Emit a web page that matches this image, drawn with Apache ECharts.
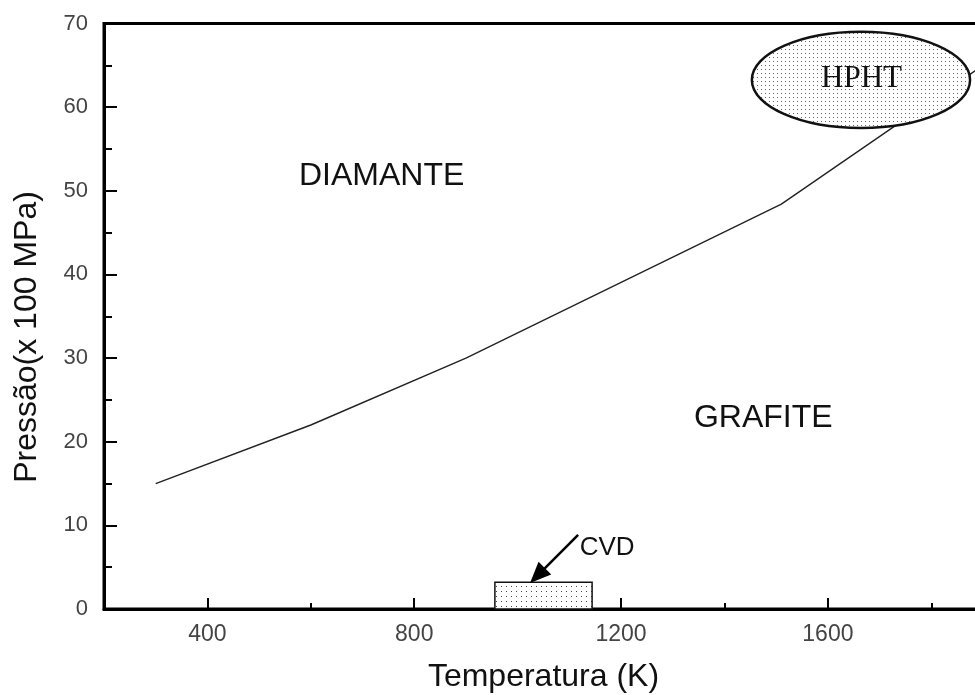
<!DOCTYPE html>
<html>
<head>
<meta charset="utf-8">
<script src="https://cdn.jsdelivr.net/npm/echarts@6/dist/echarts.min.js"></script>
<style>
  html, body { margin: 0; padding: 0; background: #fff; }
  #chart { width: 975px; height: 695px; }
</style>
</head>
<body>
<div id="chart"></div>
<script>
// Graphite/diamond equilibrium line (temperature K, pressure x100 MPa)
const boundaryT = [300, 600, 900, 1510, 1900];
const boundaryP = [15, 22, 30, 48.4, 65];

// Synthesis regions
const hphtT = [1453, 1875];      // ellipse extent in temperature
const hphtP = [57.5, 69.0];      // ellipse extent in pressure
const cvdT = [956, 1144];        // CVD window in temperature
const cvdP = [0, 3.2];           // CVD window in pressure
const cvdArrowFrom = [1117, 8.85];
const cvdArrowTo = [1024, 3.1];

// Region labels
const labelText = ['DIAMANTE', 'GRAFITE', 'CVD', 'HPHT'];
const labelT = [737, 1475, 1173, 1665];
const labelP = [51.8, 22.8, 7.3, 63.4];

// Axis ticks
const xMajorTicks = [400, 800, 1200, 1600];
const xMinorTicks = [600, 1000, 1400, 1800];
const xTickLabels = [400, 800, 1200, 1600];

const SANS = "'Liberation Sans', Arial, sans-serif";
const SERIF = "'Liberation Serif', 'Times New Roman', serif";

function dotPattern(step, dotColor) {
  const c = document.createElement('canvas');
  c.width = step; c.height = step;
  const g = c.getContext('2d');
  g.fillStyle = '#fff';
  g.fillRect(0, 0, step, step);
  g.fillStyle = dotColor;
  g.fillRect(1, 1, 1, 1);
  return { image: c, repeat: 'repeat' };
}

const chart = echarts.init(document.getElementById('chart'), null, { renderer: 'canvas' });

const boundaryData = boundaryT.map((t, i) => [t, boundaryP[i]]);
const labelData = labelText.map((s, i) => [labelT[i], labelP[i], s]);
const plain = v => String(v);

chart.setOption({
  animation: false,
  backgroundColor: '#fff',
  grid: {
    left: 104, top: 23.5, width: 879, height: 585.5,
    outerBoundsMode: 'none', containLabel: false,
    show: true, borderColor: '#000', borderWidth: 3, backgroundColor: 'transparent'
  },
  graphic: [{
    type: 'text',
    x: 27, y: 337,
    rotation: Math.PI / 2,
    style: {
      text: 'Pressão(x 100 MPa)',
      fontFamily: SANS, fontSize: 32, fill: '#111',
      align: 'center', verticalAlign: 'middle'
    }
  }],
  xAxis: [{
    type: 'value', min: 200, max: 1900, interval: 200,
    name: 'Temperatura (K)', nameLocation: 'middle', nameGap: 52,
    nameTextStyle: { fontFamily: SANS, fontSize: 32, color: '#111' },
    axisLine: { show: true, lineStyle: { color: '#000', width: 3 } },
    axisTick: { show: true, inside: true, length: 11, customValues: xMajorTicks, lineStyle: { color: '#000', width: 2 } },
    axisLabel: { customValues: xTickLabels, formatter: plain, margin: 14, fontFamily: SANS, fontSize: 23, color: '#444' },
    splitLine: { show: false }
  }, {
    type: 'value', min: 200, max: 1900, interval: 200, position: 'bottom',
    axisLine: { show: false },
    axisTick: { show: true, inside: true, length: 6, customValues: xMinorTicks, lineStyle: { color: '#000', width: 2 } },
    axisLabel: { show: false },
    splitLine: { show: false }
  }],
  yAxis: {
    type: 'value', min: 0, max: 70, interval: 10,
    axisLine: { show: true, lineStyle: { color: '#000', width: 3 } },
    axisTick: { show: true, inside: true, length: 13, lineStyle: { color: '#000', width: 2 } },
    minorTick: { show: true, splitNumber: 2, length: 8, lineStyle: { color: '#000', width: 2 } },
    axisLabel: { formatter: plain, margin: 16, fontFamily: SANS, fontSize: 22, color: '#444' },
    splitLine: { show: false },
    minorSplitLine: { show: false }
  },
  series: [{
    type: 'line',
    data: boundaryData,
    symbol: 'none',
    lineStyle: { color: '#222', width: 1.4 },
    z: 2
  }, {
    type: 'custom',
    data: [[hphtT[0], hphtP[0], hphtT[1], hphtP[1]]],
    renderItem: function (params, api) {
      const a = api.coord([api.value(0), api.value(1)]);
      const b = api.coord([api.value(2), api.value(3)]);
      return {
        type: 'ellipse',
        shape: { cx: (a[0] + b[0]) / 2, cy: (a[1] + b[1]) / 2, rx: Math.abs(b[0] - a[0]) / 2, ry: Math.abs(b[1] - a[1]) / 2 },
        style: { fill: dotPattern(4, '#666'), stroke: '#111', lineWidth: 2.5 }
      };
    },
    clip: false,
    z: 3
  }, {
    type: 'custom',
    data: [[cvdT[0], cvdP[0], cvdT[1], cvdP[1]]],
    renderItem: function (params, api) {
      const a = api.coord([api.value(0), api.value(1)]);
      const b = api.coord([api.value(2), api.value(3)]);
      return {
        type: 'rect',
        shape: { x: Math.min(a[0], b[0]), y: Math.min(a[1], b[1]), width: Math.abs(b[0] - a[0]), height: Math.abs(b[1] - a[1]) },
        style: { fill: dotPattern(5, '#444'), stroke: '#111', lineWidth: 1.5 }
      };
    },
    z: 3
  }, {
    type: 'custom',
    data: [[cvdArrowFrom[0], cvdArrowFrom[1], cvdArrowTo[0], cvdArrowTo[1]]],
    renderItem: function (params, api) {
      const s = api.coord([api.value(0), api.value(1)]);
      const e = api.coord([api.value(2), api.value(3)]);
      const dx = e[0] - s[0], dy = e[1] - s[1];
      const len = Math.sqrt(dx * dx + dy * dy);
      const ux = dx / len, uy = dy / len;
      const head = 21, half = 9;
      const bx = e[0] - ux * head, by = e[1] - uy * head;
      return {
        type: 'group',
        children: [{
          type: 'line',
          shape: { x1: s[0], y1: s[1], x2: bx + ux * 2, y2: by + uy * 2 },
          style: { stroke: '#000', lineWidth: 2.5 }
        }, {
          type: 'polygon',
          shape: { points: [[e[0], e[1]], [bx - uy * half, by + ux * half], [bx + uy * half, by - ux * half]] },
          style: { fill: '#000' }
        }]
      };
    },
    z: 4
  }, {
    type: 'custom',
    data: labelData,
    renderItem: function (params, api) {
      const p = api.coord([api.value(0), api.value(1)]);
      const txt = labelText[params.dataIndex];
      const serif = txt === 'HPHT';
      return {
        type: 'text',
        x: p[0], y: p[1],
        style: {
          text: txt,
          fontFamily: serif ? SERIF : SANS,
          fontSize: serif ? 31 : (txt === 'CVD' ? 26 : 32),
          fill: '#111',
          align: 'center',
          verticalAlign: 'middle'
        }
      };
    },
    clip: false,
    z: 5
  }]
});
</script>
</body>
</html>
